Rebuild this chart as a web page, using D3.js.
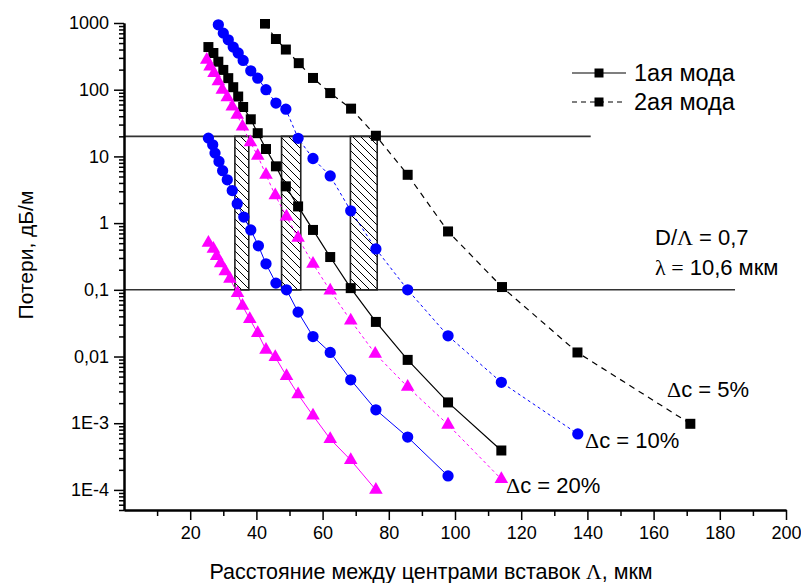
<!DOCTYPE html>
<html>
<head>
<meta charset="utf-8">
<script src="https://cdn.jsdelivr.net/npm/d3@7"></script>
<style>
  body { margin: 0; background: #fff; }
  text { font-family: Arial, "Liberation Sans", sans-serif; fill: #000; }
</style>
</head>
<body>
<svg id="chart" width="801" height="583"></svg>
<script>
// tick values and labels
const xTicks = [20, 40, 60, 80, 100, 120, 140, 160, 180, 200];
const xMinor = [10, 30, 50, 70, 90, 110, 130, 150, 170, 190];
const yTicks = [1e-4, 1e-3, 0.01, 0.1, 1, 10, 100, 1000];
const yTickLabels = ["1E-4", "1E-3", "0,01", "0,1", "1", "10", "100", "1000"];

// Δc = 5%, 1st and 2nd mode  [Λ, losses]
const mode1c5 = [[25.5,436],[27,355],[28.5,263],[30,198],[31.5,149],[33,109],[34.5,79],[36,55],
  [38.3,36],[40.4,22.3],[42.9,12.9],[45.9,7.1],[48.9,3.56],[52.6,1.78],[57.1,0.79],[62.3,0.31],
  [68.5,0.106],[76.1,0.033],[85.7,0.0089],[97.9,0.00205],[114,0.00039]];
const mode2c5 = [[42.6,980],[45.9,575],[48.9,400],[52.8,250],[57.1,150],[62.3,89],[68.6,52],
  [76.1,20.4],[85.7,5.3],[97.9,0.75],[114.2,0.11],[137,0.0115],[171.1,0.00098]];

// Δc = 10%
const mode1c10 = [[25.5,18.8],[26.8,14.9],[27.5,11.2],[28.7,8.4],[29.8,6.1],[31.2,4.46],[32.7,3.08],
  [34.2,1.95],[36.2,1.23],[38.3,0.79],[40.6,0.457],[42.9,0.245],[45.9,0.126],[49.1,0.1],
  [52.6,0.0463],[57.1,0.0199],[62.3,0.0115],[68.5,0.00448],[76.1,0.00159],[85.7,0.00062],[97.9,0.000162]];
const mode2c10 = [[28.5,940],[30,705],[31.5,560],[33,436],[34.5,355],[36,275],[38.3,192],[40.4,149],
  [42.9,100],[45.9,63],[48.9,51],[52.6,18.7],[57.1,9.3],[62.3,5.1],[68.5,1.53],[76.1,0.41],
  [85.7,0.1],[97.9,0.0204],[114,0.0041],[137.1,0.00069]];

// Δc = 20%
const mode1c20 = [[25.5,0.507],[27,0.41],[28,0.32],[29.2,0.25],[30.6,0.19],[32,0.146],[34.3,0.089],
  [35.8,0.0575],[38,0.0364],[40.4,0.0224],[42.9,0.0126],[45.7,0.0098],[49.1,0.0051],[52.6,0.0027],
  [57.1,0.0013],[62.3,0.00058],[68.5,0.00028],[76.1,0.0001]];
const mode2c20 = [[25,280],[26,223],[27.2,178],[28.5,133],[29.7,100],[31.2,77],[32.7,56],[34.2,42],
  [35.8,28],[38.2,16.2],[40.4,10.2],[42.9,5.3],[45.7,2.6],[49.1,1.25],[52.6,0.6],[57.1,0.245],
  [62.3,0.097],[68.5,0.0346],[75.9,0.011],[85.7,0.0035],[97.9,0.00095],[114,0.000145]];

// hatched ranges [Λ from, Λ to] between the two loss levels
const bands = [[33.5, 37.7], [47.6, 53.4], [68.4, 76.5]];
const bandLevels = [0.1, 20];
// horizontal loss levels, drawn from the axis to Λ end
const levelLines = [[20, 141], [0.1, 184.6]];

const svg = d3.select("#chart");

const x = d3.scaleLinear().domain([0, 200]).range([124, 786]);
const y = d3.scaleLog().domain([5e-5, 1000]).range([510, 23]);

// hatch pattern
svg.append("defs").append("pattern")
    .attr("id", "hatch")
    .attr("patternUnits", "userSpaceOnUse")
    .attr("width", 8).attr("height", 8)
  .append("path")
    .attr("d", "M-2,-2L10,10M-2,6L2,10M6,-2L10,2")
    .attr("stroke", "#000").attr("stroke-width", 1);

svg.select("defs").append("clipPath").attr("id", "clip")
  .append("rect").attr("x", 124).attr("y", 19).attr("width", 670).attr("height", 491);

// level lines
svg.selectAll(".level").data(levelLines).enter().append("line")
    .attr("x1", x(0)).attr("x2", d => x(d[1]))
    .attr("y1", d => y(d[0])).attr("y2", d => y(d[0]))
    .attr("stroke", "#333").attr("stroke-width", 1.6);

// hatched rectangles
svg.selectAll(".band").data(bands).enter().append("rect")
    .attr("x", d => x(d[0]))
    .attr("width", d => x(d[1]) - x(d[0]))
    .attr("y", y(bandLevels[1]))
    .attr("height", y(bandLevels[0]) - y(bandLevels[1]))
    .attr("fill", "url(#hatch)")
    .attr("stroke", "#222").attr("stroke-width", 1.6);

const series = [
  {data: mode1c5,  color: "#000",    dash: null,  width: 1.2, marker: d3.symbolSquare,   size: 100},
  {data: mode2c5,  color: "#000",    dash: "6,5", width: 1.2, marker: d3.symbolSquare,   size: 100},
  {data: mode1c10, color: "#0000ff", dash: null,  width: 1,   marker: d3.symbolCircle,   size: 100},
  {data: mode2c10, color: "#0000ff", dash: "3,3", width: 1,   marker: d3.symbolCircle,   size: 100},
  {data: mode1c20, color: "#ff00ff", dash: null,  width: 1,   marker: d3.symbolTriangle, size: 80},
  {data: mode2c20, color: "#ff00ff", dash: "3,3", width: 1,   marker: d3.symbolTriangle, size: 80}
];

const line = d3.line().x(d => x(d[0])).y(d => y(d[1]));
const plot = svg.append("g").attr("clip-path", "url(#clip)");

series.forEach(s => {
    plot.append("path")
        .attr("d", line(s.data))
        .attr("fill", "none")
        .attr("stroke", s.color)
        .attr("stroke-width", s.width)
        .attr("stroke-dasharray", s.dash);
});
series.forEach(s => {
    plot.selectAll(null).data(s.data).enter().append("path")
        .attr("transform", d => `translate(${x(d[0])},${y(d[1])})`)
        .attr("d", d3.symbol(s.marker, s.size))
        .attr("fill", s.color);
});

// axes
const xAxis = svg.append("g").attr("transform", `translate(0,${y(5e-5)})`)
    .call(d3.axisBottom(x).tickValues(xTicks).tickSize(10).tickPadding(6).tickSizeOuter(0));
const xMin = svg.append("g").attr("transform", `translate(0,${y(5e-5)})`)
    .call(d3.axisBottom(x).tickValues(xMinor).tickSize(6).tickFormat("").tickSizeOuter(0));

const yMinor = [];
for (let e = -5; e <= 2; e++) {
    for (let k = 2; k <= 9; k++) {
        const v = k * Math.pow(10, e);
        if (v >= 5e-5 && v < 1000) yMinor.push(v);
    }
}
const yAxis = svg.append("g").attr("transform", `translate(${x(0)},0)`)
    .call(d3.axisLeft(y).tickValues(yTicks).tickSize(10).tickPadding(5).tickSizeOuter(0)
        .tickFormat((d, i) => yTickLabels[i]));
const yMin = svg.append("g").attr("transform", `translate(${x(0)},0)`)
    .call(d3.axisLeft(y).tickValues(yMinor).tickSize(5).tickFormat("").tickSizeOuter(0));

[xAxis, xMin, yAxis, yMin].forEach(g => {
    g.select(".domain").attr("stroke", "#000").attr("stroke-width", 2);
    g.selectAll(".tick line").attr("stroke", "#000").attr("stroke-width", 1.5);
    g.selectAll(".tick text").style("font-size", "18px").style("font-family", "Arial, 'Liberation Sans', sans-serif").attr("fill", "#000");
});

// axis titles
svg.append("text")
    .attr("x", 431).attr("y", 579)
    .attr("text-anchor", "middle").style("font-size", "21.5px")
    .html('Расстояние между центрами вставок <tspan style="font-family:\'Liberation Serif\',serif">Λ</tspan>, мкм');
svg.append("text")
    .attr("transform", "translate(33,255) rotate(-90)")
    .attr("text-anchor", "middle").style("font-size", "21px")
    .text("Потери, дБ/м");

// legend
const legend = [{label: "1ая мода", dash: null}, {label: "2ая мода", dash: "5,4"}];
const lg = svg.append("g");
legend.forEach((d, i) => {
    const ly = 73 + i * 29;
    lg.append("line").attr("x1", 572).attr("x2", 626).attr("y1", ly).attr("y2", ly)
        .attr("stroke", "#000").attr("stroke-width", 1.2).attr("stroke-dasharray", d.dash);
    lg.append("path").attr("transform", `translate(599,${ly})`)
        .attr("d", d3.symbol(d3.symbolSquare, 81)).attr("fill", "#000");
    lg.append("text").attr("x", 634).attr("y", ly + 8).style("font-size", "23.5px").text(d.label);
});

// annotations
const serif = "font-family:'Liberation Serif',serif";
svg.append("text").attr("x", 655).attr("y", 245).style("font-size", "22px")
    .html(`D/<tspan style="${serif}">Λ</tspan> = 0,7`);
svg.append("text").attr("x", 655).attr("y", 275).style("font-size", "22px")
    .html(`<tspan style="${serif}">λ =</tspan> 10,6 мкм`);
const dcLabels = [["5%", 667, 397], ["10%", 585, 448], ["20%", 506, 493]];
dcLabels.forEach(d => {
    svg.append("text").attr("x", d[1]).attr("y", d[2]).style("font-size", "22px")
        .html(`<tspan style="${serif}">Δ</tspan>c = ${d[0]}`);
});
</script>
</body>
</html>
